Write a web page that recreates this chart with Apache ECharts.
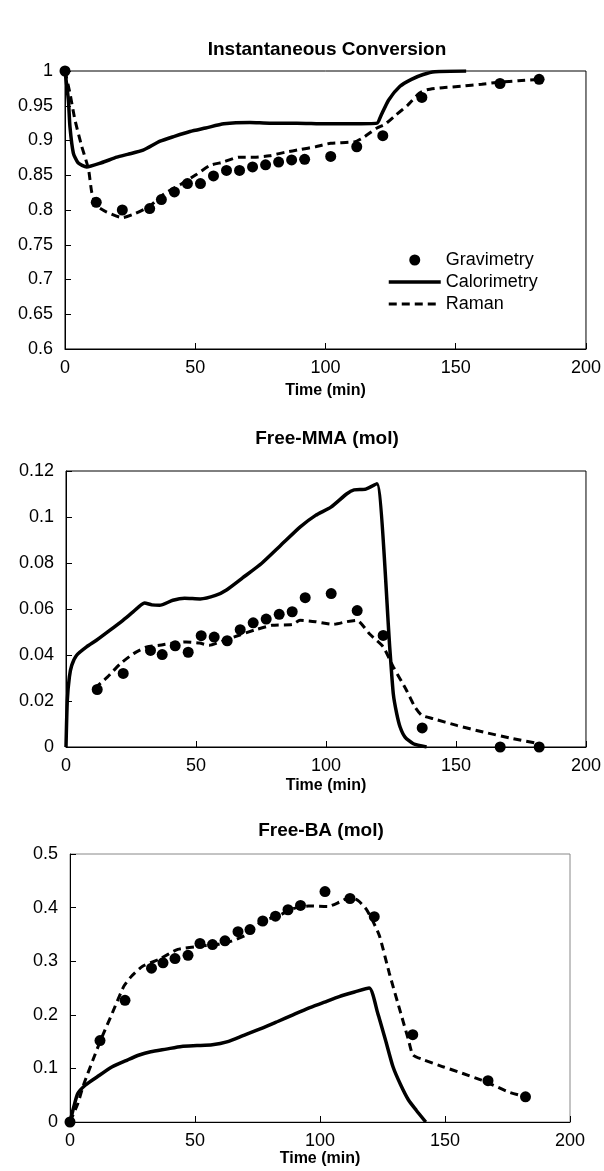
<!DOCTYPE html>
<html>
<head>
<meta charset="utf-8">
<script src="https://cdn.jsdelivr.net/npm/echarts@6/dist/echarts.min.js"></script>
<style>
html,body{margin:0;padding:0;background:#fff;}
#c{width:604px;height:1171px;}
</style>
</head>
<body>
<div id="c"></div>
<script>
// ---------- DATA ----------
const titles = ["Instantaneous Conversion", "Free-MMA (mol)", "Free-BA (mol)"];
const seriesNames = ["Gravimetry", "Calorimetry", "Raman"];
const xName = "Time (min)";

// Chart 1: Instantaneous Conversion
const grav1T = [0, 12, 22, 32.5, 37, 42, 47, 52, 57, 62, 67, 72, 77, 82, 87, 92, 102, 112, 122, 137, 167, 182];
const grav1V = [1.0, 0.811, 0.800, 0.802, 0.815, 0.826, 0.838, 0.838, 0.849, 0.857, 0.857, 0.862, 0.865, 0.869, 0.872, 0.873, 0.877, 0.891, 0.907, 0.962, 0.982, 0.988];
const cal1 = [[0,1.0],[1.3,0.958],[1.9,0.92],[3.2,0.882],[5,0.868],[8.3,0.862],[14,0.868],[19.9,0.876],[24,0.880],[30,0.886],[36.5,0.899],[42,0.906],[48,0.913],[54,0.918],[61,0.924],[71,0.926],[78.5,0.925],[89,0.925],[100,0.924],[110,0.924],[119.8,0.925],[121.2,0.935],[124.2,0.958],[128.6,0.978],[133,0.988],[137.5,0.995],[142,0.999],[154,1.0]];
const raman1 = [[0,1.0],[1.9,0.968],[3.8,0.93],[6.4,0.892],[9,0.859],[10.3,0.825],[12.2,0.806],[16,0.797],[22,0.789],[27,0.795],[32.7,0.806],[38,0.823],[44.5,0.837],[50.4,0.851],[55.6,0.864],[60.8,0.869],[66.7,0.876],[72.6,0.876],[78.5,0.878],[84.4,0.883],[90.3,0.887],[96.2,0.891],[102,0.896],[111,0.898],[114,0.903],[119.8,0.918],[122.7,0.923],[127.1,0.937],[131.6,0.951],[136,0.968],[139,0.973],[145,0.976],[152,0.978],[160,0.981],[167,0.984],[174,0.986],[182,0.988]];

// Chart 2: Free-MMA
const grav2T = [12, 22, 32.5, 37, 42, 47, 52, 57, 62, 67, 72, 77, 82, 87, 92, 102, 112, 122, 137, 167, 182];
const grav2V = [0.0250, 0.0320, 0.0420, 0.0402, 0.0440, 0.0412, 0.0484, 0.0478, 0.0462, 0.0510, 0.0540, 0.0556, 0.0577, 0.0588, 0.0649, 0.0667, 0.0593, 0.0485, 0.0083, 0, 0];
const cal2 = [[0,0],[0.5,0.0203],[1.3,0.0304],[2.2,0.0355],[4.1,0.0399],[7.9,0.0435],[11.7,0.0464],[16.8,0.0507],[21.9,0.0551],[25.8,0.0587],[30.2,0.0626],[33,0.0618],[36,0.0616],[41.1,0.0638],[45.6,0.0647],[51.6,0.0644],[57.5,0.0659],[61.9,0.0684],[67.9,0.0735],[75.3,0.0799],[82.7,0.0878],[90.1,0.0957],[96,0.1007],[101.9,0.1043],[107.9,0.11],[110.8,0.1118],[115.3,0.1121],[119.6,0.1145],[124.6,0.042],[125.9,0.023],[127.2,0.0145],[128.5,0.0087],[130.4,0.0043],[133.6,0.0014],[138.7,0]];
const raman2 = [[11,0.0255],[15.9,0.0304],[20.9,0.0362],[26,0.0406],[31.1,0.0435],[36,0.0442],[41.1,0.0452],[46.2,0.0457],[51.3,0.0452],[55.1,0.0442],[60.2,0.0461],[66.6,0.0486],[72.9,0.051],[79.3,0.0529],[87,0.0533],[90,0.0551],[96,0.0545],[102.8,0.0533],[108,0.0545],[111.8,0.0551],[116.9,0.049],[122,0.0435],[125.9,0.0348],[131,0.0246],[134.2,0.0174],[136.8,0.0138],[141.3,0.0123],[150.3,0.0094],[160.5,0.0065],[172,0.0036],[182,0.0014]];

// Chart 3: Free-BA
const grav3T = [0, 12, 22, 32.6, 37.2, 42, 47.2, 52, 57, 62, 67.2, 72, 77.1, 82.2, 87.2, 92.2, 102, 112, 121.7, 137.1, 167.2, 182.2];
const grav3V = [0, 0.152, 0.227, 0.287, 0.297, 0.305, 0.311, 0.333, 0.331, 0.338, 0.355, 0.359, 0.375, 0.384, 0.396, 0.404, 0.430, 0.417, 0.383, 0.163, 0.077, 0.047];
const cal3 = [[0,0],[1.5,0.028],[3.1,0.053],[6.2,0.069],[10.8,0.084],[16.9,0.103],[23.1,0.116],[27.7,0.125],[32.3,0.131],[38.5,0.136],[44.6,0.141],[50.8,0.1425],[56.9,0.144],[63.1,0.15],[69.2,0.161],[76.9,0.175],[83.1,0.1875],[89.2,0.2],[95.4,0.2125],[101.5,0.223],[107.7,0.234],[113.8,0.2425],[119.7,0.25],[123.1,0.203],[126.2,0.153],[129.2,0.103],[132.3,0.069],[135.4,0.041],[138.5,0.022],[142.3,0]];
const raman3 = [[0,0],[3.1,0.034],[5.4,0.069],[9.2,0.116],[12.3,0.153],[16.9,0.203],[21.5,0.253],[24.6,0.272],[29.2,0.291],[35.4,0.303],[43.1,0.322],[52.3,0.328],[58.5,0.331],[64.6,0.3375],[70.8,0.35],[76.9,0.375],[83.1,0.384],[89.2,0.398],[95.4,0.403],[103.1,0.402],[107.7,0.41],[112.3,0.42],[115.4,0.4125],[118.5,0.397],[120.8,0.378],[123.8,0.347],[127.7,0.278],[132.3,0.203],[135.4,0.153],[137.2,0.125],[141.5,0.116],[149.2,0.103],[156.9,0.091],[164.6,0.078],[169.2,0.069],[175.4,0.056],[182.2,0.047]];

const xMin = 0, xMax = 200, xStep = 50;
const yRanges = [[0.6, 1, 0.05], [0, 0.12, 0.02], [0, 0.5, 0.1]];

// ---------- LAYOUT ----------
const FONT = "'Liberation Sans', Arial, sans-serif";
const grids = [
  {left: 65, top: 71, width: 522, height: 278},
  {left: 66, top: 471, width: 520, height: 276},
  {left: 70, top: 854, width: 500, height: 268}
];
const titleTops = [35, 424, 816];
const nameGaps = [34, 31, 29];

const zip = (a, b) => a.map((v, i) => [v, b[i]]);
const gravs = [zip(grav1T, grav1V), zip(grav2T, grav2V), zip(grav3T, grav3V)];
const cals = [cal1, cal2, cal3];
const ramans = [raman1, raman2, raman3];

const hidden = {color: 'rgba(0,0,0,0)', borderColor: 'rgba(0,0,0,0)', borderWidth: 0, opacity: 0};
const calLine = {color: '#000', width: 3.5, type: 'solid'};
const ramanLine = {color: '#000', width: 3, type: [8, 5]};

const option = {
  animation: false,
  backgroundColor: '#fff',
  textStyle: {fontFamily: FONT, color: '#000'},
  title: titles.map((t, i) => ({
    text: t,
    left: grids[i].left + grids[i].width / 2 - 4,
    top: titleTops[i],
    textAlign: 'center',
    textStyle: {fontFamily: FONT, fontWeight: 'bold', fontSize: 19, color: '#000'}
  })),
  legend: {
    left: 387, top: 251, orient: 'vertical', padding: 0,
    itemWidth: 52, itemHeight: 11, itemGap: 4,
    data: [
      {name: 'Gravimetry', icon: 'circle', itemStyle: {color: '#000', opacity: 1}},
      {name: 'Calorimetry', itemStyle: hidden, lineStyle: calLine},
      {name: 'Raman', itemStyle: hidden, lineStyle: ramanLine}
    ],
    textStyle: {fontFamily: FONT, fontSize: 18, color: '#000'}
  },
  grid: grids.map((g, i) => ({
    left: g.left, top: g.top, width: g.width, height: g.height,
    show: true, borderColor: i === 2 ? '#888' : '#000', borderWidth: 1
  })),
  xAxis: grids.map((g, i) => ({
    gridIndex: i, type: 'value', min: xMin, max: xMax, interval: xStep,
    name: xName, nameLocation: 'middle', nameGap: nameGaps[i],
    nameTextStyle: {fontFamily: FONT, fontWeight: 'bold', fontSize: 16, color: '#000'},
    axisLine: {show: true, onZero: false, lineStyle: {color: '#000', width: 1}},
    axisTick: {show: true, inside: true, length: 6, lineStyle: {color: '#000'}},
    axisLabel: {fontFamily: FONT, fontSize: 18, color: '#000', margin: 10},
    splitLine: {show: false}
  })),
  yAxis: yRanges.map((r, i) => ({
    gridIndex: i, type: 'value', min: r[0], max: r[1], interval: r[2],
    axisLine: {show: true, onZero: false, lineStyle: {color: '#000', width: 1}},
    axisTick: {show: true, inside: true, length: 6, lineStyle: {color: '#000'}},
    axisLabel: {fontFamily: FONT, fontSize: 18, color: '#000', margin: 12,
      formatter: v => String(+v.toFixed(4))},
    splitLine: {show: false}
  })),
  series: []
};

for (let i = 0; i < 3; i++) {
  option.series.push({
    name: 'Calorimetry', type: 'line', xAxisIndex: i, yAxisIndex: i,
    data: cals[i], symbol: 'none', smooth: 0.2,
    lineStyle: calLine, itemStyle: {color: '#000'}, z: 2
  });
  option.series.push({
    name: 'Raman', type: 'line', xAxisIndex: i, yAxisIndex: i,
    data: ramans[i], symbol: 'none', smooth: 0.2,
    lineStyle: ramanLine, itemStyle: {color: '#000'}, z: 2
  });
  option.series.push({
    name: 'Gravimetry', type: 'scatter', xAxisIndex: i, yAxisIndex: i,
    data: gravs[i], symbol: 'circle', symbolSize: 11,
    itemStyle: {color: '#000', opacity: 1}, z: 3
  });
}

const chart = echarts.init(document.getElementById('c'), null, {renderer: 'canvas'});
chart.setOption(option);
</script>
</body>
</html>
